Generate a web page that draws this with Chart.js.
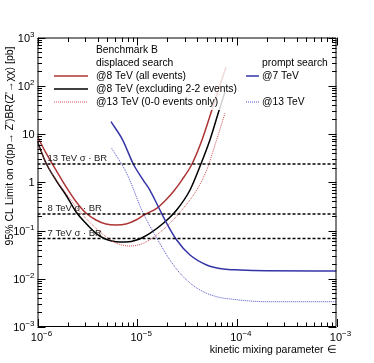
<!DOCTYPE html>
<html>
<head>
<meta charset="utf-8">
<script src="https://cdn.jsdelivr.net/npm/chart.js@4.4.1/dist/chart.umd.min.js"></script>
<style>
  body { margin: 0; background: #fff; }
  canvas { display: block; }
</style>
</head>
<body>
<canvas id="myChart" width="374" height="363"></canvas>
<script>
// limits (x = kinetic mixing, y = limit in pb)
const epsAll8 = [1.0e-6, 1.22e-6, 1.53e-6, 1.93e-6, 2.43e-6, 3.06e-6, 3.86e-6, 4.86e-6, 6.12e-6, 7.72e-6, 9.72e-6, 1.2e-5, 1.57e-5, 1.98e-5, 2.3e-5, 2.81e-5, 3.55e-5, 4.47e-5, 5.62e-5, 7.78e-5];
const limAll8 = [8.8, 4.0, 1.8, 0.81, 0.40, 0.23, 0.165, 0.136, 0.130, 0.136, 0.165, 0.216, 0.288, 0.45, 0.637, 1.11, 2.39, 7.5, 31.4, 245];

const epsExcl8 = [1.0e-6, 1.22e-6, 1.53e-6, 1.93e-6, 2.43e-6, 3.06e-6, 3.86e-6, 4.86e-6, 6.12e-6, 7.72e-6, 9.89e-6, 1.34e-5, 1.83e-5, 2.49e-5, 3.39e-5, 4.36e-5, 5.37e-5, 6.65e-5, 7.6e-5];
const limExcl8 = [6.9, 2.47, 1.11, 0.544, 0.245, 0.141, 0.0875, 0.0657, 0.0586, 0.0578, 0.0635, 0.0875, 0.141, 0.266, 0.69, 2.39, 7.5, 31.4, 74];

const eps13disp = [1.0e-6, 1.22e-6, 1.53e-6, 1.93e-6, 2.43e-6, 3.06e-6, 3.86e-6, 4.86e-6, 6.12e-6, 8.47e-6, 1.15e-5, 1.57e-5, 2.13e-5, 2.9e-5, 3.95e-5, 4.98e-5, 6.26e-5, 7.6e-5];
const lim13disp = [7.0, 2.5, 1.15, 0.59, 0.311, 0.179, 0.111, 0.0745, 0.055, 0.0477, 0.0543, 0.0807, 0.141, 0.288, 0.69, 1.79, 7.5, 26.9];

const eps7prompt = [5.46e-6, 7.16e-6, 9.14e-6, 1.15e-5, 1.34e-5, 1.63e-5, 1.98e-5, 2.49e-5, 3.39e-5, 4.98e-5, 7.31e-5, 1.07e-4, 1.99e-4, 1e-3];
const lim7prompt = [18.0, 7.5, 2.39, 1.11, 0.69, 0.311, 0.141, 0.0635, 0.031, 0.0193, 0.0159, 0.0152, 0.0147, 0.0145];

const eps13prompt = [5.55e-6, 7.85e-6, 1.15e-5, 1.57e-5, 2.13e-5, 2.9e-5, 4.27e-5, 6.26e-5, 9.2e-5, 1.99e-4, 1e-3];
const lim13prompt = [5.06, 1.53, 0.228, 0.07, 0.0245, 0.011, 0.00585, 0.00425, 0.00375, 0.00334, 0.00334];

// sigma x BR reference lines
const xsecLabels = ["13 TeV σ · BR", "8 TeV σ · BR", "7 TeV σ · BR"];
const xsecValues = [2.4, 0.22, 0.068];

const xDecades = [-6, -5, -4, -3];
const yDecades = [-3, -2, -1, 0, 1, 2, 3];

const RED = "#ad3535";
const BLUE = "#3535a8";
const FONT = "'Liberation Sans', Arial, sans-serif";

const pts = (xs, ys) => xs.map((v, i) => ({ x: v, y: ys[i] }));

const curve = (xs, ys, color, dashed) => ({
  data: pts(xs, ys),
  borderColor: color,
  borderWidth: dashed ? 1 : 1.5,
  borderDash: dashed ? [1, 1] : [],
  pointRadius: 0,
  showLine: true,
  fill: false,
  cubicInterpolationMode: "monotone",
});

const datasets = [];
xsecValues.forEach((v) => {
  datasets.push({
    data: [{ x: 1e-6, y: v }, { x: 1e-3, y: v }],
    borderColor: "#000",
    borderWidth: 1.5,
    borderDash: [3, 2],
    pointRadius: 0,
    showLine: true,
  });
});
datasets.push(curve(eps13prompt, lim13prompt, "#5050c8", true));
datasets.push(curve(eps13disp, lim13disp, "#cc5050", true));
datasets.push(curve(eps7prompt, lim7prompt, BLUE, false));
datasets.push(curve(epsAll8, limAll8, RED, false));
datasets.push(curve(epsExcl8, limExcl8, "#000", false));

// "10^n" label with small raised exponent
function powLabel(ctx, e, x, y, align) {
  ctx.textBaseline = "middle";
  if (e === 0 || e === 1) {
    ctx.font = "11px " + FONT;
    ctx.textAlign = align;
    ctx.fillText(e === 0 ? "1" : "10", x, y);
    return;
  }
  ctx.font = "11px " + FONT;
  const wb = ctx.measureText("10").width;
  ctx.font = "8px " + FONT;
  const ex = e < 0 ? "−" + (-e) : String(e);
  const we = ctx.measureText(ex).width;
  let left = x;
  if (align === "right") left = x - wb - we;
  if (align === "center") left = x - (wb + we) / 2;
  ctx.textAlign = "left";
  ctx.font = "11px " + FONT;
  ctx.fillText("10", left, y);
  ctx.font = "8px " + FONT;
  ctx.fillText(ex, left + wb, y - 4);
}

const rootFrame = {
  id: "rootFrame",
  afterDatasetsDraw(chart) {
    const { ctx, chartArea: a, scales } = chart;
    const xs = scales.x, ys = scales.y;
    ctx.save();

    // legend box sits over the curves, they show faintly through it
    ctx.fillStyle = "rgba(255,255,255,0.82)";
    ctx.fillRect(48, 41, 286, 69);

    ctx.fillStyle = "#000";
    ctx.font = "10.3px " + FONT;
    ctx.textAlign = "left";
    ctx.textBaseline = "middle";
    ctx.fillText("Benchmark B", 96, 50);
    ctx.fillText("displaced search", 96, 63);
    ctx.fillText("@8 TeV (all events)", 96, 76);
    ctx.fillText("@8 TeV (excluding 2-2 events)", 96, 89);
    ctx.fillText("@13 TeV (0-0 events only)", 96, 102);
    ctx.fillText("prompt search", 262, 63);
    ctx.fillText("@7 TeV", 262, 76);
    ctx.fillText("@13 TeV", 262, 102);

    const sample = (x0, x1, yy, color, w, dash) => {
      ctx.beginPath();
      ctx.strokeStyle = color;
      ctx.lineWidth = w;
      ctx.setLineDash(dash);
      ctx.moveTo(x0, yy);
      ctx.lineTo(x1, yy);
      ctx.stroke();
    };
    sample(54, 88, 76, RED, 1.5, []);
    sample(54, 88, 89, "#000", 1.5, []);
    sample(54, 88, 102, "#cc5050", 1, [1, 1]);
    sample(246, 259, 76, BLUE, 1.5, []);
    sample(246, 259, 102, "#5050c8", 1, [1, 1]);
    ctx.setLineDash([]);

    // sigma x BR labels
    ctx.fillStyle = "#222";
    ctx.font = "9.5px " + FONT;
    ctx.textAlign = "left";
    ctx.textBaseline = "alphabetic";
    xsecValues.forEach((v, i) => {
      ctx.fillText(xsecLabels[i], a.left + 10, ys.getPixelForValue(v) - 2.5);
    });

    // frame and ticks on all sides
    ctx.strokeStyle = "#000";
    ctx.lineWidth = 1;
    ctx.beginPath();
    ctx.rect(a.left + 0.5, a.top + 0.5, a.right - a.left - 1, a.bottom - a.top - 1);
    for (let e = -6; e <= -3; e++) {
      for (let m = 1; m <= 9; m++) {
        if (e === -3 && m > 1) break;
        const px = Math.round(xs.getPixelForValue(m * Math.pow(10, e))) + 0.5;
        const len = m === 1 ? 8 : 4.5;
        ctx.moveTo(px, a.bottom);
        ctx.lineTo(px, a.bottom - len);
        ctx.moveTo(px, a.top);
        ctx.lineTo(px, a.top + len);
      }
    }
    for (let e = -3; e <= 3; e++) {
      for (let m = 1; m <= 9; m++) {
        if (e === 3 && m > 1) break;
        const py = Math.round(ys.getPixelForValue(m * Math.pow(10, e))) + 0.5;
        const len = m === 1 ? 8 : 4.5;
        ctx.moveTo(a.left, py);
        ctx.lineTo(a.left + len, py);
        ctx.moveTo(a.right, py);
        ctx.lineTo(a.right - len, py);
      }
    }
    ctx.stroke();

    // tick labels
    ctx.fillStyle = "#000";
    xDecades.forEach((e) => powLabel(ctx, e, xs.getPixelForValue(Math.pow(10, e)) + 4, a.bottom + 11, "center"));
    yDecades.forEach((e) => powLabel(ctx, e, a.left - 3, ys.getPixelForValue(Math.pow(10, e)) + 1, "right"));

    // axis titles
    ctx.font = "10.5px " + FONT;
    ctx.textAlign = "right";
    ctx.textBaseline = "middle";
    ctx.fillText("kinetic mixing parameter ∈", a.right, 350);
    ctx.save();
    ctx.translate(10, a.top + 9);
    ctx.rotate(-Math.PI / 2);
    ctx.fillText("95% CL Limit on σ(pp→ Z')BR(Z'→χχ) [pb]", 0, 0);
    ctx.restore();

    ctx.restore();
  },
};

new Chart(document.getElementById("myChart"), {
  type: "scatter",
  data: { datasets },
  options: {
    responsive: false,
    animation: false,
    events: [],
    layout: { padding: { left: 37.5, top: 37.5, right: 37.5, bottom: 36 } },
    plugins: { legend: { display: false }, tooltip: { enabled: false } },
    scales: {
      x: { type: "logarithmic", min: 1e-6, max: 1e-3, display: false },
      y: { type: "logarithmic", min: 1e-3, max: 1e3, display: false },
    },
  },
  plugins: [rootFrame],
});
</script>
</body>
</html>
